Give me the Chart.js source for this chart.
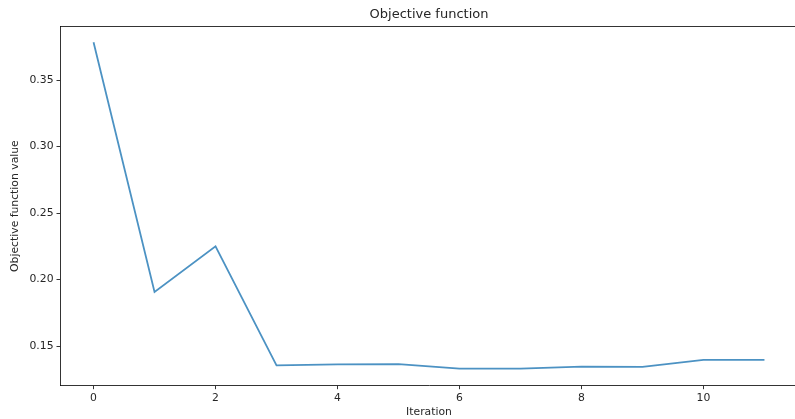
<!DOCTYPE html>
<html>
<head>
<meta charset="utf-8">
<script src="https://cdn.jsdelivr.net/npm/chart.js@4.4.1/dist/chart.umd.min.js"></script>
<style>
html,body{margin:0;padding:0;background:#fff;overflow:hidden;width:795px;height:419px;}
#wrap{width:820px;height:419px;position:absolute;left:0;top:0;}
</style>
</head>
<body>
<div id="wrap"><canvas id="c" width="820" height="419"></canvas></div>
<script>
const iterations = [0,1,2,3,4,5,6,7,8,9,10,11];
const objectiveValues = [0.3786,0.1907,0.2250,0.1355,0.1362,0.1365,0.1331,0.1330,0.1346,0.1343,0.1397,0.1397];
const xTicks = [0,2,4,6,8,10];
const yTicks = [0.15,0.20,0.25,0.30,0.35];
const titleText = 'Objective function';
const xLabel = 'Iteration';
const yLabel = 'Objective function value';

const FONT = "'DejaVu Sans', sans-serif";
const TEXT = '#262626';

const frame = {
  id: 'frame',
  afterDraw(chart) {
    const {ctx, chartArea: a} = chart;
    ctx.save();
    ctx.strokeStyle = '#000';
    ctx.lineWidth = 0.8;
    ctx.beginPath();
    ctx.moveTo(a.left, a.top);
    ctx.lineTo(a.right, a.top);
    ctx.stroke();
    ctx.fillStyle = TEXT;
    ctx.font = "13px 'DejaVu Sans', sans-serif";
    ctx.textAlign = 'center';
    ctx.textBaseline = 'alphabetic';
    ctx.fillText(titleText, (a.left + a.right) / 2, a.top - 8.5);
    ctx.restore();
  }
};

new Chart(document.getElementById('c'), {
  type: 'line',
  data: {
    datasets: [{
      data: iterations.map((x, i) => ({x, y: objectiveValues[i]})),
      borderColor: 'rgba(31,119,180,0.8)',
      borderWidth: 1.8,
      pointRadius: 0,
      tension: 0,
      fill: false
    }]
  },
  options: {
    responsive: false,
    animation: false,
    devicePixelRatio: 1,
    layout: {padding: {left: 0, right: 22, top: 26.5, bottom: 0}},
    plugins: {
      legend: {display: false},
      tooltip: {enabled: false},
      title: {display: false}
    },
    scales: {
      x: {
        type: 'linear',
        min: -0.55,
        max: 11.55,
        afterBuildTicks: s => { s.ticks = xTicks.map(v => ({value: v})); },
        afterFit: s => { s.height = 33.3; },
        ticks: {
          color: TEXT,
          font: {family: FONT, size: 10.8},
          padding: 3,
          maxRotation: 0,
          autoSkip: false,
          callback: v => String(v)
        },
        grid: {display: true, drawOnChartArea: false, drawTicks: true, tickLength: 3.5, color: '#000', lineWidth: 0.8},
        border: {display: true, color: '#000', width: 0.8},
        title: {display: true, text: xLabel, color: TEXT, font: {family: FONT, size: 10.8}, padding: {top: 0, bottom: 0}}
      },
      y: {
        type: 'linear',
        min: 0.1202,
        max: 0.3904,
        afterBuildTicks: s => { s.ticks = yTicks.map(v => ({value: v})); },
        afterFit: s => { s.width = 60; },
        ticks: {
          color: TEXT,
          font: {family: FONT, size: 10.8},
          padding: 3,
          autoSkip: false,
          callback: v => Number(v).toFixed(2)
        },
        grid: {display: true, drawOnChartArea: false, drawTicks: true, tickLength: 3.5, color: '#000', lineWidth: 0.8},
        border: {display: true, color: '#000', width: 0.8},
        title: {display: true, text: yLabel, color: TEXT, font: {family: FONT, size: 10.8}, padding: {top: 9, bottom: 0}}
      }
    }
  },
  plugins: [frame]
});
</script>
</body>
</html>
